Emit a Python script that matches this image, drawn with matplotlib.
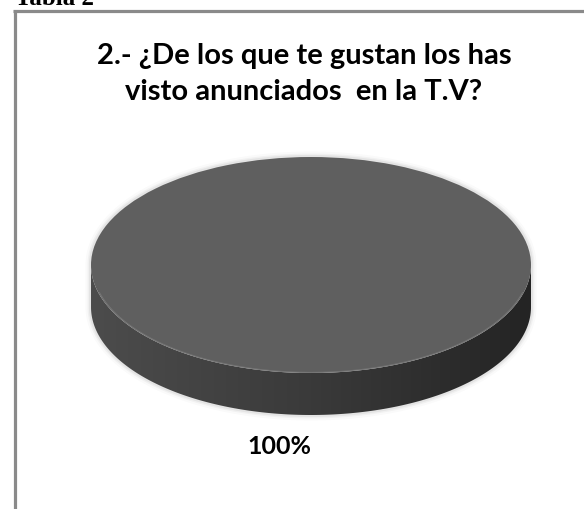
import numpy as np
import matplotlib
matplotlib.use("Agg")
import matplotlib.pyplot as plt
from matplotlib.patches import Polygon
from matplotlib.colors import LinearSegmentedColormap

caption = "Tabla 2"
title = "2.- ¿De los que te gustan los has\nvisto anunciados  en la T.V?"
categories = ["Sí"]
values = [100]
top_colors = ["#5f5f5f"]
side_light = ["#4c4c4c"]
side_dark = ["#242424"]

W, H = 584, 510
fig = plt.figure(figsize=(W / 100, H / 100), dpi=100)
fig.patch.set_facecolor("white")

# background/pixel axes
bg = fig.add_axes([0, 0, 1, 1])
bg.set_xlim(0, W)
bg.set_ylim(H, 0)
bg.axis("off")
bg.plot([13, W], [12, 12], color="#8a8a8a", lw=2.3, solid_capstyle="butt")
bg.plot([14.5, 14.5], [11, H], color="#8a8a8a", lw=2.3, solid_capstyle="butt")
bg.text(15, 5, caption, fontsize=18, fontweight="bold",
        family="Liberation Serif", ha="left", va="baseline")
bg.text(304, 74, title, fontsize=21, fontweight="bold", family="Lato",
        ha="center", va="center", linespacing=1.43)

# pie geometry (pixels)
cx, cy, a, b = 311, 266, 220, 108
depth = 42 / b
xl = (-1.2, 1.2)
yl = (-1.8, 1.2)
left = cx + xl[0] * a
right = cx + xl[1] * a
top = cy - yl[1] * b
bottom = cy - yl[0] * b
ax = fig.add_axes([left / W, (H - bottom) / H, (right - left) / W, (bottom - top) / H])

wedges, _ = ax.pie(values, colors=top_colors, startangle=90, counterclock=True,
                   wedgeprops=dict(linewidth=0, zorder=3))
ax.set_aspect("auto")
ax.set_xlim(*xl)
ax.set_ylim(*yl)
ax.axis("off")

# soft shadow around silhouette
t_up = np.linspace(0, np.pi, 200)
t_dn = np.linspace(np.pi, 2 * np.pi, 200)
sil = np.vstack([np.column_stack([np.cos(t_up), np.sin(t_up)]),
                 np.column_stack([np.cos(t_dn), np.sin(t_dn) - depth])])
for lw, al in [(8, 0.02), (5, 0.035), (3, 0.05)]:
    ax.add_patch(Polygon(sil, closed=True, fill=False, edgecolor="black",
                         lw=lw, alpha=al, zorder=0.5, joinstyle="round"))

# sides
grad = np.linspace(0, 1, 256).reshape(1, -1)
for w, cl, cd in zip(wedges, side_light, side_dark):
    t1, t2 = w.theta1, w.theta2
    for lo, hi in [(-180, 0), (180, 360), (540, 720)]:
        s, e = max(t1, lo), min(t2, hi)
        if e <= s:
            continue
        t = np.radians(np.linspace(s, e, 200))
        topp = np.column_stack([np.cos(t), np.sin(t)])
        botp = np.column_stack([np.cos(t), np.sin(t) - depth])[::-1]
        poly = Polygon(np.vstack([topp, botp]), closed=True, facecolor="none",
                       edgecolor="none", zorder=1)
        ax.add_patch(poly)
        cmap = LinearSegmentedColormap.from_list("side", [cl, "#3a3a3a", cd])
        im = ax.imshow(grad, cmap=cmap, extent=(-1, 1, -1 - depth, 0),
                       aspect="auto", zorder=1, interpolation="bilinear")
        im.set_clip_path(poly)
    # subtle rim
    t = np.radians(np.linspace(195, 345, 150))
    ax.plot(np.cos(t) * 0.995, np.sin(t) * 0.995, color="#8a8a8a", lw=0.8,
            alpha=0.5, zorder=4)

ax.set_xlim(*xl)
ax.set_ylim(*yl)

# percentage label
total = sum(values)
for v in values:
    bg.text(279, 447, f"{v / total * 100:.0f}%", fontsize=18, family="Lato",
            fontweight="bold", ha="center", va="center", color="black")

fig.savefig("out.png", dpi=100)
